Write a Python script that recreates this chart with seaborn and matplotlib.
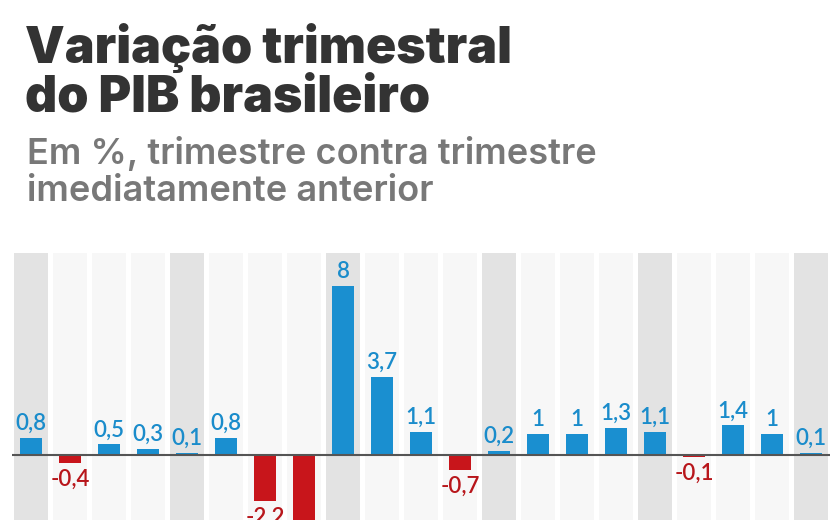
import matplotlib
matplotlib.use("Agg")
import matplotlib.pyplot as plt
import seaborn as sns
import pandas as pd

# quarterly GDP change, % vs previous quarter (the big negative bar is cut off in the source)
values = [0.8, -0.4, 0.5, 0.3, 0.1, 0.8, -2.2, -9.0, 8.0, 3.7, 1.1,
          -0.7, 0.2, 1.0, 1.0, 1.3, 1.1, -0.1, 1.4, 1.0, 0.1]
quarters = [f"t{i + 1}" for i in range(len(values))]

BLUE = "#1a8fd0"
RED = "#c8151b"
BLUE_TXT = "#1a8ccb"
RED_TXT = "#b8161b"

df = pd.DataFrame({"trimestre": quarters, "variacao": values})
df["sinal"] = ["pos" if v >= 0 else "neg" for v in values]

sns.set_theme(style="white")
plt.rcParams["font.family"] = ["Lato", "DejaVu Sans"]

fig = plt.figure(figsize=(8.4, 5.2), dpi=100)
fig.patch.set_facecolor("white")
ax = fig.add_axes([11.5 / 840, 0, 819 / 840, 267 / 520])

# background stripes, darker every fourth column
for i in range(len(quarters)):
    col = "#e3e3e3" if i % 4 == 0 else "#f7f7f7"
    ax.axvspan(i - 0.44, i + 0.44, color=col, lw=0, zorder=0)

sns.barplot(data=df, x="trimestre", y="variacao", hue="sinal",
            palette={"pos": BLUE, "neg": RED}, dodge=False, width=0.56,
            legend=False, saturation=1, linewidth=0, ax=ax, zorder=2)

ax.axhline(0, color="#555555", lw=1.5, zorder=3)

ymin, ymax = -3.08, 9.57
for i, v in enumerate(values):
    if v < ymin:
        continue  # label falls outside the cropped area
    txt = f"{v:g}".replace(".", ",")
    if v >= 0:
        ax.annotate(txt, (i, v), xytext=(0, 3), textcoords="offset points",
                    ha="center", va="bottom", fontsize=16, color=BLUE_TXT,
                    fontweight=600, annotation_clip=False, clip_on=True)
    else:
        ax.annotate(txt, (i, v), xytext=(0, -4), textcoords="offset points",
                    ha="center", va="top", fontsize=16, color=RED_TXT,
                    fontweight=600, annotation_clip=False, clip_on=True)

ax.set_xlim(-0.5, len(values) - 0.5)
ax.set_ylim(ymin, ymax)
ax.set_xlabel("")
ax.set_ylabel("")
ax.set_xticks([])
ax.set_yticks([])
sns.despine(ax=ax, left=True, bottom=True)
ax.set_facecolor("white")

title_kw = dict(fontsize=36, fontweight=900, color="#333333", va="baseline",
                family=["Inter", "DejaVu Sans"])
sub_kw = dict(fontsize=26, fontweight=600, color="#787878", va="baseline",
              family=["Inter", "DejaVu Sans"])
fig.text(25 / 840, 1 - 63 / 520, "Variação trimestral", **title_kw)
fig.text(25 / 840, 1 - 111 / 520, "do PIB brasileiro", **title_kw)
fig.text(27 / 840, 1 - 164 / 520, "Em %, trimestre contra trimestre", **sub_kw)
fig.text(27 / 840, 1 - 201 / 520, "imediatamente anterior", **sub_kw)

fig.savefig("out.png", dpi=100)
